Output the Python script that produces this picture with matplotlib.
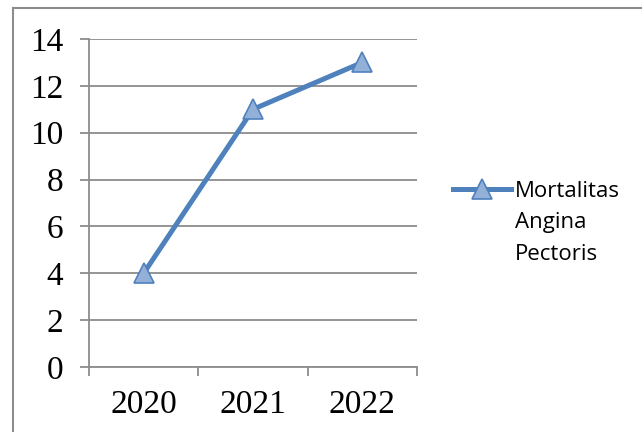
import matplotlib.pyplot as plt
from matplotlib.lines import Line2D

# data
years = ["2020", "2021", "2022"]
mortalitas = [4, 11, 13]
series_label = "Mortalitas\nAngina\nPectoris"
y_ticks = [0, 2, 4, 6, 8, 10, 12, 14]

W, H = 642, 432
fig = plt.figure(figsize=(W / 100, H / 100), dpi=100)

# plot area in pixels: left 89, right 417, top 39, bottom 367
ax = fig.add_axes([89 / W, (H - 367) / H, (417 - 89) / W, (367 - 39) / H])

grey = "#8c8c8c"
x = list(range(len(years)))
ax.plot(x, mortalitas, color="#4f81bd", lw=3.6, marker="^", ms=14,
        mfc="#93b0d8", mec="#4f81bd", mew=1.2, label=series_label,
        solid_joinstyle="round", zorder=3)

ax.set_xlim(-0.5, len(years) - 0.5)
ax.set_ylim(0, 14)
ax.set_yticks(y_ticks)
ax.set_xticks(x)
ax.set_xticklabels(years)
ax.set_xticks([i - 0.5 for i in range(len(years) + 1)], minor=True)

ax.grid(axis="y", color=grey, lw=1.3)
ax.set_axisbelow(True)
for side in ["top", "right"]:
    ax.spines[side].set_visible(False)
for side in ["left", "bottom"]:
    ax.spines[side].set_color(grey)
    ax.spines[side].set_linewidth(1.3)

serif = ["Liberation Serif", "DejaVu Serif"]
ax.tick_params(axis="y", length=6.5, width=1.3, color=grey, pad=12,
               labelsize=24)
ax.tick_params(axis="x", which="major", length=0, pad=16, labelsize=24)
ax.tick_params(axis="x", which="minor", length=6.5, width=1.3, color=grey)
for lab in ax.get_xticklabels() + ax.get_yticklabels():
    lab.set_family(serif)

leg = ax.legend(loc="upper left", bbox_to_anchor=(453 / W, 1 - 181 / H),
                bbox_transform=fig.transFigure, frameon=False,
                prop={"family": "Open Sans", "size": 16}, handlelength=2.6,
                handletextpad=0.2, borderpad=0, borderaxespad=0)
for t in leg.get_texts():
    t.set_linespacing(1.65)
# keep the handle level with the first line of the label
for col in leg._legend_handle_box.get_children():
    for item in col.get_children():
        item.align = "top"

# outer chart border (only left and top edges fall inside the picture)
fig.add_artist(Line2D([13 / W, 13 / W], [0, 1 - 8 / H], color=grey, lw=1.5))
fig.add_artist(Line2D([13 / W, 1], [1 - 8 / H, 1 - 8 / H], color=grey, lw=1.5))

fig.savefig("out.png", dpi=100)
